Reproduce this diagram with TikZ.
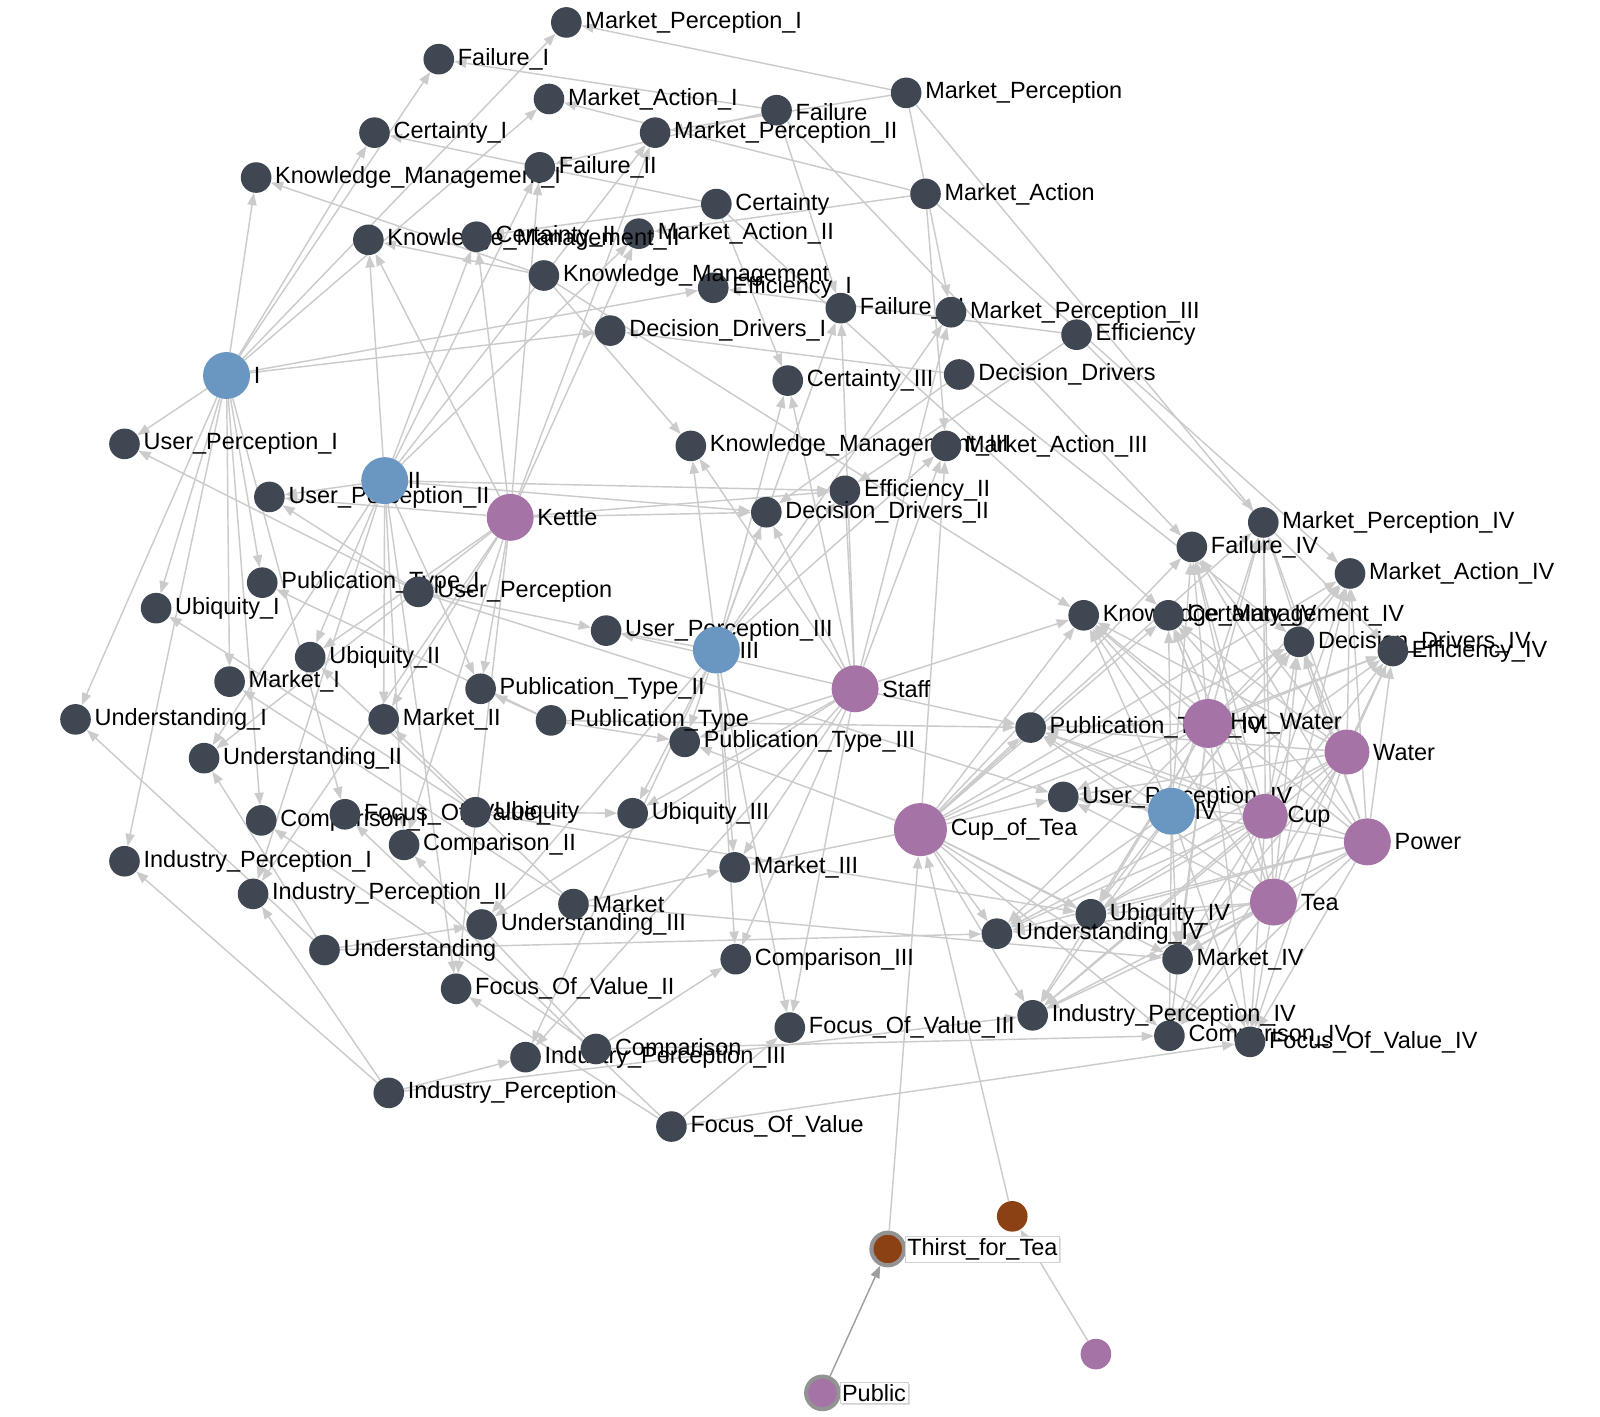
\documentclass[tikz,border=0pt]{standalone}
\usepackage{fontspec}
\setmainfont{Liberation Sans}
\usetikzlibrary{arrows.meta, backgrounds, shadows}

\definecolor{darkcol}{HTML}{3F4753}
\definecolor{hubcol}{HTML}{6A97C1}
\definecolor{thingcol}{HTML}{A673A7}
\definecolor{browncol}{HTML}{8B4113}
\definecolor{linkcol}{HTML}{CBCBCB}

\tikzset{
  lbl/.style={font=\fontsize{23}{26}\selectfont, text=black},
  boxlbl/.style={lbl, fill=white, draw=gray!35, inner sep=2pt, label distance=-1pt,
    drop shadow={opacity=0.25, shadow xshift=1.5pt, shadow yshift=-1.5pt}},
  dk/.style={circle, fill=darkcol, minimum size=30pt, inner sep=0pt},
  hub/.style={circle, fill=hubcol, minimum size=46pt, inner sep=0pt},
  thing/.style={circle, fill=thingcol, minimum size=46pt, inner sep=0pt},
  ringed/.style={draw=gray!85, line width=4pt},
  link/.style={color=linkcol, line width=1.4pt, -{Triangle[length=12pt,width=9pt]}},
}

\begin{document}
\begin{tikzpicture}[x=1pt, y=-1pt]
\useasboundingbox (0,0) rectangle (1568,1388);

% level I
\node[dk, label={[lbl]right:Market\_Perception\_I}] (MP1) at (555,22) {};
\node[dk, label={[lbl]right:Failure\_I}] (FA1) at (430,58) {};
\node[dk, label={[lbl]right:Market\_Action\_I}] (MA1) at (538,97) {};
\node[dk, label={[lbl]right:Certainty\_I}] (CE1) at (367,130) {};
\node[dk, label={[lbl]right:Knowledge\_Management\_I}] (KM1) at (251,174) {};
\node[dk, label={[lbl]right:Efficiency\_I}] (EF1) at (699,282) {};
\node[dk, label={[lbl]right:Decision\_Drivers\_I}] (DD1) at (598,324) {};
\node[dk, label={[lbl]right:User\_Perception\_I}] (UP1) at (122,435) {};
\node[dk, label={[lbl]right:Publication\_Type\_I}] (PT1) at (257,571) {};
\node[dk, label={[lbl]right:Ubiquity\_I}] (UB1) at (153,596) {};
\node[dk, label={[lbl]right:Market\_I}] (MK1) at (225,668) {};
\node[dk, label={[lbl]right:Understanding\_I}] (UN1) at (74,705) {};
\node[dk, label={[lbl]right:Comparison\_I}] (CO1) at (256,804) {};
\node[dk, label={[lbl]right:Focus\_Of\_Value\_I}] (FV1) at (338,798) {};
\node[dk, label={[lbl]right:Industry\_Perception\_I}] (IP1) at (122,844) {};

% level II
\node[dk, label={[lbl]right:Market\_Perception\_II}] (MP2) at (642,130) {};
\node[dk, label={[lbl]right:Failure\_II}] (FA2) at (529,164) {};
\node[dk, label={[lbl]right:Market\_Action\_II}] (MA2) at (626,229) {};
\node[dk, label={[lbl]right:Knowledge\_Management\_II}] (KM2) at (361,235) {};
\node[dk, label={[lbl]right:Certainty\_II}] (CE2) at (467,232) {};
\node[dk, label={[lbl]right:Efficiency\_II}] (EF2) at (828,481) {};
\node[dk, label={[lbl]right:Decision\_Drivers\_II}] (DD2) at (751,502) {};
\node[dk, label={[lbl]right:User\_Perception\_II}] (UP2) at (264,487) {};
\node[dk, label={[lbl]right:Publication\_Type\_II}] (PT2) at (471,675) {};
\node[dk, label={[lbl]right:Ubiquity\_II}] (UB2) at (304,644) {};
\node[dk, label={[lbl]right:Market\_II}] (MK2) at (376,705) {};
\node[dk, label={[lbl]right:Understanding\_II}] (UN2) at (200,743) {};
\node[dk, label={[lbl]right:Comparison\_II}] (CO2) at (396,828) {};
\node[dk, label={[lbl]right:Focus\_Of\_Value\_II}] (FV2) at (447,969) {};
\node[dk, label={[lbl]right:Industry\_Perception\_II}] (IP2) at (248,876) {};

% level III
\node[dk, label={[lbl]right:Failure\_III}] (FA3) at (824,302) {};
\node[dk, label={[lbl]right:Market\_Perception\_III}] (MP3) at (932,306) {};
\node[dk, label={[lbl]right:Certainty\_III}] (CE3) at (772,373) {};
\node[dk, label={[lbl]right:Knowledge\_Management\_III}] (KM3) at (677,437) {};
\node[dk, label={[lbl]right:Market\_Action\_III}] (MA3) at (927,437) {};
\node[dk, label={[lbl]right:User\_Perception\_III}] (UP3) at (594,618) {};
\node[dk, label={[lbl]right:Publication\_Type\_III}] (PT3) at (671,727) {};
\node[dk, label={[lbl]right:Ubiquity\_III}] (UB3) at (620,797) {};
\node[dk, label={[lbl]right:Market\_III}] (MK3) at (720,850) {};
\node[dk, label={[lbl]right:Understanding\_III}] (UN3) at (472,906) {};
\node[dk, label={[lbl]right:Comparison\_III}] (CO3) at (721,940) {};
\node[dk, label={[lbl]right:Focus\_Of\_Value\_III}] (FV3) at (774,1007) {};
\node[dk, label={[lbl]right:Industry\_Perception\_III}] (IP3) at (515,1036) {};

% level IV
\node[dk, label={[lbl]right:Market\_Perception\_IV}] (MP4) at (1238,512) {};
\node[dk, label={[lbl]right:Failure\_IV}] (FA4) at (1168,536) {};
\node[dk, label={[lbl]right:Market\_Action\_IV}] (MA4) at (1323,562) {};
\node[dk, label={[lbl]right:Knowledge\_Management\_IV}] (KM4) at (1062,603) {};
\node[dk, label={[lbl]right:Certainty\_IV}] (CE4) at (1145,603) {};
\node[dk, label={[lbl]right:Decision\_Drivers\_IV}] (DD4) at (1273,629) {};
\node[dk, label={[lbl]right:Efficiency\_IV}] (EF4) at (1365,638) {};
\node[dk, label={[lbl]right:Publication\_Type\_IV}] (PT4) at (1010,713) {};
\node[dk, label={[lbl]right:User\_Perception\_IV}] (UP4) at (1042,781) {};
\node[dk, label={[lbl]right:Ubiquity\_IV}] (UB4) at (1069,896) {};
\node[dk, label={[lbl]right:Understanding\_IV}] (UN4) at (977,915) {};
\node[dk, label={[lbl]right:Market\_IV}] (MK4) at (1154,940) {};
\node[dk, label={[lbl]right:Industry\_Perception\_IV}] (IP4) at (1012,995) {};
\node[dk, label={[lbl]right:Comparison\_IV}] (CO4) at (1146,1015) {};
\node[dk, label={[lbl]right:Focus\_Of\_Value\_IV}] (FV4) at (1225,1021) {};

% concepts
\node[dk, label={[lbl]right:Market\_Perception}] (MP) at (888,91) {};
\node[dk, label={[lbl, yshift=-2pt]right:Failure}] (FA) at (761,108) {};
\node[dk, label={[lbl]right:Market\_Action}] (MA) at (907,190) {};
\node[dk, label={[lbl]right:Certainty}] (CE) at (702,200) {};
\node[dk, label={[lbl]right:Knowledge\_Management}] (KM) at (533,270) {};
\node[dk, label={[lbl]right:Efficiency}] (EF) at (1055,328) {};
\node[dk, label={[lbl]right:Decision\_Drivers}] (DD) at (940,367) {};
\node[dk, label={[lbl]right:User\_Perception}] (UP) at (410,580) {};
\node[dk, label={[lbl]right:Publication\_Type}] (PT) at (540,706) {};
\node[dk, label={[lbl]right:Ubiquity}] (UB) at (466,796) {};
\node[dk, label={[lbl]right:Market}] (MK) at (562,886) {};
\node[dk, label={[lbl]right:Understanding}] (UN) at (318,931) {};
\node[dk, label={[lbl]right:Comparison}] (CO) at (584,1028) {};
\node[dk, label={[lbl]right:Industry\_Perception}] (IP) at (381,1071) {};
\node[dk, label={[lbl]right:Focus\_Of\_Value}] (FV) at (658,1104) {};

% hubs
\node[hub, label={[lbl]right:I}] (H1) at (222,368) {};
\node[hub, label={[lbl, label distance=-4pt]right:II}] (H2) at (377,471) {};
\node[hub, label={[lbl, label distance=-4pt]right:III}] (H3) at (702,637) {};
\node[hub, label={[lbl, label distance=-4pt]right:IV}] (H4) at (1148,795) {};

% things
\node[thing, label={[lbl]right:Kettle}] (kettle) at (500,507) {};
\node[thing, label={[lbl]right:Staff}] (staff) at (838,675) {};
\node[thing, minimum size=52pt, label={[lbl]right:Cup\_of\_Tea}] (cupTea) at (902,813) {};
\node[thing, minimum size=48pt, label={[lbl, label distance=-6pt]right:Hot\_Water}] (hotWater) at (1184,709) {};
\node[thing, minimum size=44pt, label={[lbl]right:Water}] (water) at (1320,737) {};
\node[thing, minimum size=44pt, label={[lbl, label distance=-4pt]right:Cup}] (cup) at (1240,800) {};
\node[thing, label={[lbl]right:Power}] (power) at (1340,825) {};
\node[thing, label={[lbl]right:Tea}] (tea) at (1248,884) {};

% bottom
\node[dk, fill=browncol, ringed, minimum size=32pt, label={[boxlbl]right:Thirst\_for\_Tea}] (thirst) at (870,1224) {};
\node[dk, fill=browncol] (brownDot) at (992,1192) {};
\node[dk, fill=thingcol] (thingDot) at (1074,1327) {};
\node[dk, fill=thingcol, ringed, minimum size=32pt, label={[boxlbl]right:Public}] (public) at (806,1365) {};

\begin{scope}[on background layer]
\fill[white] (0,0) rectangle (1568,1388);

\path[link] (H1) edge (MP1) edge (FA1) edge (MA1) edge (CE1) edge (KM1) edge (EF1) edge (DD1) edge (UP1) edge (PT1) edge (UB1) edge (MK1) edge (UN1) edge (CO1) edge (FV1) edge (IP1);
\path[link] (H2) edge (MP2) edge (FA2) edge (MA2) edge (CE2) edge (KM2) edge (EF2) edge (DD2) edge (UP2) edge (PT2) edge (UB2) edge (MK2) edge (UN2) edge (CO2) edge (FV2) edge (IP2);
\path[link] (H3) edge (MP3) edge (FA3) edge (MA3) edge (CE3) edge (KM3) edge (EF2) edge (DD2) edge (UP3) edge (PT3) edge (UB3) edge (MK3) edge (UN3) edge (CO3) edge (FV3) edge (IP3);
\path[link] (H4) edge (MP4) edge (FA4) edge (MA4) edge (CE4) edge (KM4) edge (EF4) edge (DD4) edge (UP4) edge (PT4) edge (UB4) edge (MK4) edge (UN4) edge (CO4) edge (FV4) edge (IP4);

\path[link] (MP) edge (MP1) edge (MP2) edge (MP3) edge (MP4);
\path[link] (FA) edge (FA1) edge (FA2) edge (FA3) edge (FA4);
\path[link] (MA) edge (MA1) edge (MA2) edge (MA3) edge (MA4);
\path[link] (CE) edge (CE1) edge (CE2) edge (CE3) edge (CE4);
\path[link] (KM) edge (KM1) edge (KM2) edge (KM3) edge (KM4);
\path[link] (EF) edge (EF1) edge (EF2) edge (EF4);
\path[link] (DD) edge (DD1) edge (DD2) edge (DD4);
\path[link] (UP) edge (UP1) edge (UP2) edge (UP3) edge (UP4);
\path[link] (PT) edge (PT1) edge (PT2) edge (PT3) edge (PT4);
\path[link] (UB) edge (UB1) edge (UB2) edge (UB3) edge (UB4);
\path[link] (MK) edge (MK1) edge (MK2) edge (MK3) edge (MK4);
\path[link] (UN) edge (UN1) edge (UN2) edge (UN3) edge (UN4);
\path[link] (CO) edge (CO1) edge (CO2) edge (CO3) edge (CO4);
\path[link] (FV) edge (FV1) edge (FV2) edge (FV3) edge (FV4);
\path[link] (IP) edge (IP1) edge (IP2) edge (IP3) edge (IP4);

\path[link] (kettle) edge (MP2) edge (FA2) edge (MA2) edge (CE2) edge (KM2) edge (EF2) edge (DD2) edge (UP2) edge (PT2) edge (UB2) edge (MK2) edge (UN2) edge (CO2) edge (FV2) edge (IP2);
\path[link] (staff) edge (MP3) edge (FA3) edge (MA3) edge (CE3) edge (KM3) edge (EF2) edge (DD2) edge (UP3) edge (PT3) edge (UB3) edge (MK3) edge (UN3) edge (CO3) edge (FV3) edge (IP3) edge (KM4) edge (PT4);
\path[link] (cupTea) edge (MP4) edge (FA4) edge (MA4) edge (CE4) edge (KM4) edge (EF4) edge (DD4) edge (UP4) edge (PT4) edge (UB4) edge (MK4) edge (UN4) edge (CO4) edge (FV4) edge (IP4) edge (MA3) edge (PT3) edge (MK3);
\path[link] (hotWater) edge (MP4) edge (FA4) edge (MA4) edge (CE4) edge (KM4) edge (EF4) edge (DD4) edge (UP4) edge (PT4) edge (UB4) edge (MK4) edge (UN4) edge (CO4) edge (FV4) edge (IP4);
\path[link] (water) edge (MP4) edge (FA4) edge (MA4) edge (CE4) edge (KM4) edge (EF4) edge (DD4) edge (UP4) edge (PT4) edge (UB4) edge (MK4) edge (UN4) edge (CO4) edge (FV4) edge (IP4);
\path[link] (cup) edge (MP4) edge (FA4) edge (MA4) edge (CE4) edge (KM4) edge (EF4) edge (DD4) edge (UP4) edge (PT4) edge (UB4) edge (MK4) edge (UN4) edge (CO4) edge (FV4) edge (IP4);
\path[link] (power) edge (MP4) edge (FA4) edge (MA4) edge (CE4) edge (KM4) edge (EF4) edge (DD4) edge (UP4) edge (PT4) edge (UB4) edge (MK4) edge (UN4) edge (CO4) edge (FV4) edge (IP4);
\path[link] (tea) edge (MP4) edge (FA4) edge (MA4) edge (CE4) edge (KM4) edge (EF4) edge (DD4) edge (UP4) edge (PT4) edge (UB4) edge (MK4) edge (UN4) edge (CO4) edge (FV4) edge (IP4);

\path[link] (thirst) edge (cupTea);
\path[link] (brownDot) edge (cupTea);
\path[link] (thingDot) edge (brownDot);
\path[link, color=gray!75] (public) edge (thirst);
\end{scope}
\end{tikzpicture}
\end{document}
